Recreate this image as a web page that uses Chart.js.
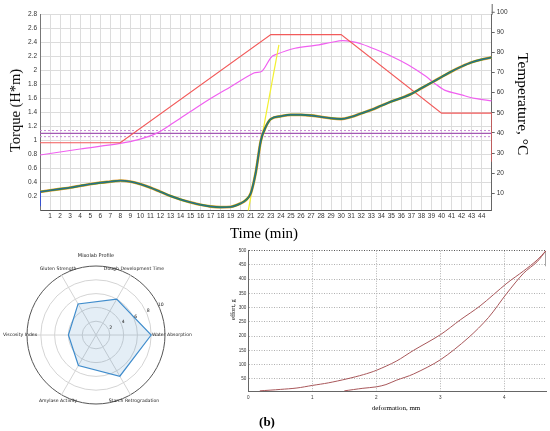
<!DOCTYPE html>
<html><head><meta charset="utf-8">
<script src="https://cdn.jsdelivr.net/npm/chart.js@4.4.1/dist/chart.umd.min.js"></script>
<style>
body{margin:0;background:#fff;width:550px;height:431px;position:relative;overflow:hidden}
canvas{position:absolute}
.t{position:absolute;white-space:nowrap;font-family:'Liberation Serif',serif;color:#000;line-height:1;transform:translate(-50%,-50%)}
.v{position:absolute;display:flex;align-items:center;justify-content:center;white-space:nowrap;font-family:'Liberation Serif',serif;color:#000;line-height:1;writing-mode:vertical-rl}
</style></head><body>
<canvas id="top" width="550" height="232" style="left:0;top:0;width:550px;height:232px"></canvas>
<canvas id="radar" width="200" height="190" style="left:0;top:240px;width:200px;height:190px"></canvas>
<canvas id="tex" width="325" height="175" style="left:225px;top:240px;width:325px;height:175px"></canvas>
<div class="v" style="left:6px;top:50px;width:18px;height:120px;font-size:14.5px;transform:rotate(180deg)">Torque (H*m)</div>
<div class="t" style="left:264px;top:233px;font-size:15px">Time (min)</div>
<div class="v" style="left:514px;top:44px;width:18px;height:120px;font-size:15.5px">Temperature, °C</div>
<div class="v" style="left:229px;top:290px;width:8px;height:40px;font-size:6.5px;transform:rotate(180deg)">effort, g</div>
<div class="t" style="left:396px;top:408px;font-size:7px">deformation, mm</div>
<div class="t" style="left:267px;top:421px;font-size:13px;font-weight:bold">(b)</div>
<script>
// ---------- Mixolab curve (top) ----------
const torqueTime = [0,1,2,3,4,5,6,7,8,9,10,11,12,13,14,15,16,17,18,19,20,20.5,21,21.5,22,22.5,23,24,25,26,27,28,29,30,31,32,33,34,35,36,37,38,39,40,41,42,43,44,45];
const torqueVal  = [0.27,0.29,0.31,0.33,0.355,0.38,0.40,0.415,0.43,0.415,0.38,0.33,0.27,0.21,0.16,0.12,0.085,0.06,0.05,0.055,0.105,0.15,0.25,0.55,1.0,1.2,1.31,1.35,1.37,1.37,1.36,1.34,1.32,1.31,1.34,1.39,1.44,1.50,1.56,1.61,1.67,1.75,1.83,1.91,1.99,2.06,2.12,2.16,2.19];
const startTime = [0,0];
const startTorque = [0.065,0.27];
const setTime = [0,8,23,30,40,45,45];
const setTemp = [35.1,35.1,88.9,88.9,49.8,49.8,25.7];
const doughTime = [0,4,8,9.7,11.7,13.3,14.8,16.8,19,21.3,22.1,23,23.4,25.4,27.4,29.1,30.1,31.1,32.1,33.4,35.1,36.7,38.4,39.3,40.3,42,43.3,45];
const doughTemp = [29.0,32.0,34.8,36.5,40.0,45.0,50.0,56.5,63.0,69.8,70.6,77.5,78.8,82.1,83.5,85.1,85.9,85.4,84.1,81.6,77.9,73.8,68.3,64.7,61.3,58.9,57.2,55.9];
const yellowTime = [20.75,23.8];
const yellowTorque = [0,2.37];
const bandTime = [0,45];
const bandMid = 1.106, bandHigh = 1.145, bandLow = 1.058;
const tempTicks = [10,20,30,40,50,60,70,80,90];
const tempTopTick = 100;

// ---------- Mixolab profile (radar) ----------
const profileLabels = ['Water Absorption','Dough Development Time','Gluten Strength','Viscosity Index','Amylase Activity','Starch Retrogradation'];
const profileValues = [8.0,6.0,5.2,4.0,5.1,6.9];
const profileTicks = [2,4,6,8,10];

// ---------- Texture (effort vs deformation) ----------
const loadDef = [0.18,0.5,0.76,1.0,1.25,1.54,1.8,2.0,2.31,2.58,3.0,3.31,3.62,4.04,4.3,4.51,4.65];
const loadEff = [8,13,18,27,36,50,65,80,112,150,205,257,306,386,429,467,500];
const unloadDef = [4.65,4.51,4.3,4.04,3.75,3.43,3.0,2.58,2.31,2.15,2.0,1.79,1.5];
const unloadEff = [500,461,421,351,265,193,117,67,45,30,22,17,8];
const markDef = [4.65,4.65];
const markEff = [500,445];
const effTicks = [50,100,150,200,250,300,350,400,450,500];
const defTicks = [0,1,2,3,4];

const pts = (xs, ys) => xs.map((x,i)=>({x:x, y:ys[i]}));
Chart.defaults.font.family = "'Liberation Sans', Arial, sans-serif";
Chart.defaults.animation = false;

const line = (data, color, width, extra) => Object.assign({
  data, borderColor: color, borderWidth: width, pointRadius: 0, fill: false, yAxisID: 'y'
}, extra || {});

// ===== top chart =====
const topExtras = {
  id: 'topExtras',
  afterDraw(chart) {
    const s = chart.scales.y2, ctx = chart.ctx;
    const y = s.getPixelForValue(tempTopTick);
    ctx.save();
    ctx.strokeStyle = '#666'; ctx.lineWidth = 1;
    ctx.beginPath(); ctx.moveTo(s.left + 0.5, 4); ctx.lineTo(s.left + 0.5, chart.chartArea.top); ctx.stroke();
    ctx.beginPath(); ctx.moveTo(s.left, y); ctx.lineTo(s.left + 3, y); ctx.stroke();
    ctx.fillStyle = '#333'; ctx.font = "6.5px 'Liberation Sans'";
    ctx.textAlign = 'left'; ctx.textBaseline = 'middle';
    ctx.fillText(String(tempTopTick), s.left + 5, y);
    ctx.restore();
  }
};
new Chart(document.getElementById('top'), {
  type: 'line',
  data: { datasets: [
    line(pts(startTime, startTorque), '#2244ee', 1.5),
    line(pts(torqueTime, torqueVal), '#2d55d8', 0.7, {cubicInterpolationMode:'monotone'}),
    line(pts(torqueTime, torqueVal), '#2f8f2a', 1.9, {cubicInterpolationMode:'monotone'}),
    line(pts(torqueTime, torqueVal), '#e8a040', 2.8, {cubicInterpolationMode:'monotone'}),
    line(pts(yellowTime, yellowTorque), '#f2f030', 1.2),
    line(pts(setTime, setTemp), '#f25a5a', 1.2, {yAxisID:'y2'}),
    line(pts(doughTime, doughTemp), '#f060f0', 1.2, {yAxisID:'y2', tension:0.3}),
    line(pts(bandTime, [bandMid,bandMid]), '#a45ab4', 1.3),
    line(pts(bandTime, [bandHigh,bandHigh]), '#c88ad4', 1, {borderDash:[2,2]}),
    line(pts(bandTime, [bandLow,bandLow]), '#c88ad4', 1, {borderDash:[2,2]})
  ]},
  options: {
    responsive: false, maintainAspectRatio: false,
    layout: { padding: {left:0, right:0, top:14.7, bottom:0} },
    plugins: { legend: {display:false}, tooltip: {enabled:false} },
    scales: {
      x: { type:'linear', min:0, max:45,
        ticks: { stepSize:1, autoSkip:false, maxRotation:0, padding:2, color:'#333', font:{size:6.5},
          callback: v => (v>0 && v<45) ? String(v) : '' },
        grid: { color:'#dcdcdc', drawTicks:false },
        border: { color:'#555' },
        afterFit: s => { s.height = 21.3; } },
      y: { min:0, max:2.8,
        ticks: { stepSize:0.2, padding:3, color:'#333', font:{size:6.5},
          callback: v => v > 0.01 ? (Math.round(v*10)/10).toString() : '' },
        grid: { color:'#dcdcdc', drawTicks:false },
        border: { color:'#777' },
        afterFit: s => { s.width = 40; } },
      y2: { position:'right', min:1.3, max:98.8,
        afterBuildTicks: s => { s.ticks = tempTicks.map(v=>({value:v})); },
        ticks: { padding:2, color:'#333', font:{size:6.5} },
        grid: { drawOnChartArea:false, drawTicks:true, tickLength:3, color:'#666' },
        border: { color:'#666' },
        afterFit: s => { s.width = 58.3; } }
    }
  },
  plugins: [topExtras]
});

// ===== radar =====
const order = [0,5,4,3,2,1]; // clockwise order for Chart.js starting at the right
const radarExtras = {
  id: 'radarExtras',
  afterDraw(chart) {
    const s = chart.scales.r, ctx = chart.ctx;
    ctx.save();
    ctx.fillStyle = '#222';
    ctx.textAlign = 'center'; ctx.textBaseline = 'middle';
    ctx.font = "5px 'DejaVu Sans'";
    ctx.fillText('Mixolab Profile', s.xCenter, s.yCenter - s.drawingArea - 10.5);
    ctx.font = "4.6px 'DejaVu Sans'";
    order.forEach((k, i) => {
      const p = s.getPointPositionForValue(i, 11);
      ctx.fillText(profileLabels[k], p.x, p.y);
    });
    const a = -25 * Math.PI / 180;
    profileTicks.forEach(v => {
      const d = s.getDistanceFromCenterForValue(v) + 2.5;
      ctx.fillText(String(v), s.xCenter + d*Math.cos(a), s.yCenter + d*Math.sin(a));
    });
    ctx.restore();
  }
};
new Chart(document.getElementById('radar'), {
  type: 'radar',
  data: {
    labels: order.map(k => profileLabels[k]),
    datasets: [{ data: order.map(k => profileValues[k]), borderColor:'#3f8ccc', borderWidth:1.2,
      backgroundColor:'rgba(31,119,180,0.12)', pointRadius:0, fill:true }]
  },
  options: {
    responsive:false, maintainAspectRatio:false,
    layout: { padding: {left:27, right:35, top:26, bottom:26} },
    plugins: { legend:{display:false}, tooltip:{enabled:false} },
    scales: { r: { min:0, max:10, startAngle:90,
      ticks: { display:false, stepSize:2 },
      pointLabels: { display:false },
      angleLines: { color:'#d4d4d4', lineWidth:1 },
      grid: { circular:true, color: c => c.tick && c.tick.value === 10 ? '#555' : '#d4d4d4', lineWidth:1 }
    } }
  },
  plugins: [radarExtras]
});

// ===== texture chart =====
new Chart(document.getElementById('tex'), {
  type: 'line',
  data: { datasets: [
    line(pts(loadDef, loadEff), '#a8575a', 1, {tension:0.3}),
    line(pts(unloadDef, unloadEff), '#a8575a', 1, {tension:0.3}),
    line(pts(markDef, markEff), '#888', 1.5)
  ]},
  options: {
    responsive:false, maintainAspectRatio:false,
    layout: { padding: {left:0, right:4, top:10.7, bottom:0} },
    plugins: { legend:{display:false}, tooltip:{enabled:false} },
    scales: {
      x: { type:'linear', min:0, max:4.65,
        afterBuildTicks: s => { s.ticks = defTicks.map(v=>({value:v})); },
        ticks: { padding:3, color:'#333', font:{size:4.6}, maxRotation:0, autoSkip:false },
        grid: { color:'#b0b0b0', drawTicks:false },
        border: { color:'#666', dash:[1,1.5] },
        afterFit: s => { s.height = 23.3; } },
      y: { min:5, max:500,
        afterBuildTicks: s => { s.ticks = effTicks.map(v=>({value:v})); },
        ticks: { padding:2, color:'#333', font:{size:4.6} },
        grid: { color: c => c.tick && c.tick.value === 500 ? '#555' : '#b0b0b0', drawTicks:false },
        border: { color:'#666', dash:[1,1.5] },
        afterFit: s => { s.width = 23.3; } }
    }
  }
});
</script>
</body></html>
